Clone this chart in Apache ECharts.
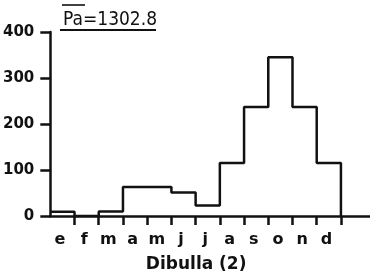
<!DOCTYPE html>
<html><head><meta charset="utf-8">
<script src="https://cdn.jsdelivr.net/npm/echarts@6/dist/echarts.min.js"></script>
<style>html,body{margin:0;padding:0;background:#fff}#c{width:370px;height:278px}</style>
</head><body><div id="c"></div>
<script>
var months = ['e','f','m','a','m','j','j','a','s','o','n','d'];
var values = [9, 0, 10, 63, 63, 51, 23, 115, 237, 345, 237, 115];
var yTicks = [0, 100, 200, 300, 400];
var titleText = 'Pa=1302.8';
var xName = 'Dibulla (2)';

var stepData = values.map(function(v, i){ return [i, v]; });
stepData.push([values.length, 0]);

var ink = '#111';
var chart = echarts.init(document.getElementById('c'));
chart.setOption({
  animation: false,
  grid: {left: 49, right: 0, top: 32, bottom: 58.5},
  title: {text: titleText, left: 58, top: 6,
    textStyle: {fontFamily: 'DejaVu Sans Condensed', fontWeight: 'normal', fontSize: 19, color: ink}},
  graphic: [
    {type: 'line', shape: {x1: 60, y1: 30, x2: 156, y2: 30}, style: {stroke: ink, lineWidth: 2.2}},
    {type: 'line', shape: {x1: 62, y1: 5, x2: 85, y2: 5}, style: {stroke: ink, lineWidth: 1.6}}
  ],
  xAxis: [{
    type: 'value', min: 0, max: 13.2, interval: 1,
    axisLine: {show: true, lineStyle: {color: ink, width: 2.5}},
    axisTick: {show: true, length: 9, lineStyle: {color: ink, width: 2.5},
      customValues: months.map(function(m, i){ return i + 1; })},
    axisLabel: {show: false},
    splitLine: {show: false},
    name: xName, nameLocation: 'middle', nameGap: 40,
    nameTextStyle: {fontFamily: 'DejaVu Sans', fontWeight: 'bold', fontSize: 17, color: ink, padding: [0, 28, 0, 0]}
  }, {
    type: 'value', min: 0, max: 13.2, position: 'bottom',
    axisLine: {show: false}, axisTick: {show: false}, splitLine: {show: false},
    axisLabel: {show: true, margin: 16, fontFamily: 'DejaVu Sans', fontWeight: 'bold', fontSize: 16, color: ink,
      customValues: months.map(function(m, i){ return i + 0.4; }),
      formatter: function(v){ var i = Math.floor(v); return (i >= 0 && i < months.length) ? months[i] : ''; }}
  }],
  yAxis: {
    type: 'value', min: 0, max: 400, interval: 100,
    axisLine: {show: true, lineStyle: {color: ink, width: 2.5}},
    axisTick: {show: true, length: 10, lineStyle: {color: ink, width: 2.5},
      customValues: yTicks},
    axisLabel: {margin: 16, fontFamily: 'DejaVu Sans', fontWeight: 'bold', fontSize: 15, color: ink,
      customValues: yTicks},
    splitLine: {show: false}
  },
  series: [{
    type: 'line', step: 'end', data: stepData, xAxisIndex: 0,
    showSymbol: false, symbol: 'none',
    lineStyle: {color: ink, width: 2.5}
  }]
});
</script></body></html>
